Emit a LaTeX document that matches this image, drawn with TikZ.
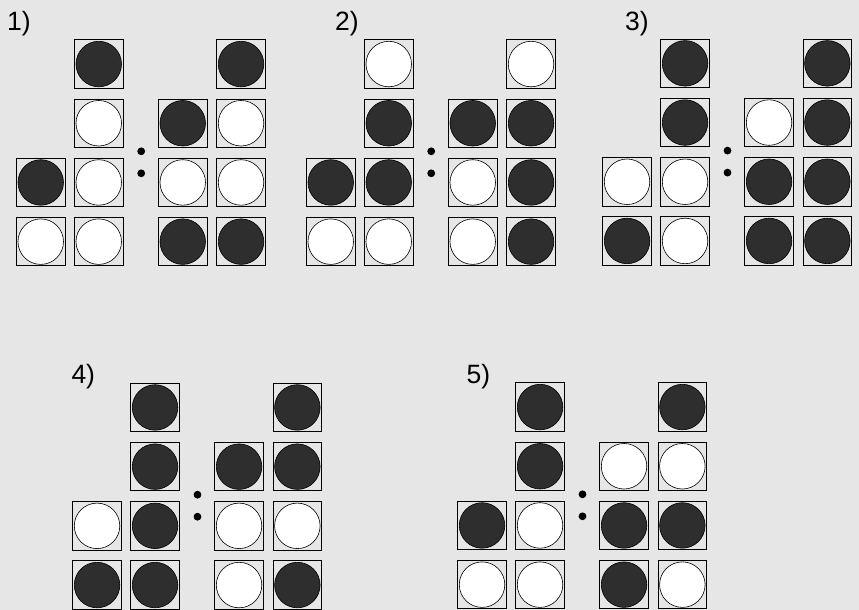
\documentclass[tikz,border=0pt]{standalone}
\usepackage{fontspec}
\setmainfont{Liberation Sans}
\definecolor{bg}{HTML}{E6E6E6}
\definecolor{dark}{HTML}{2E2E2E}
\tikzset{
  cellbox/.style={draw=black, line width=1pt, fill=bg, minimum size=48.5pt, inner sep=0pt, shape=rectangle},
  discB/.style={circle, draw=black, line width=0.6pt, fill=dark, minimum size=45.5pt, inner sep=0pt},
  discW/.style={circle, draw=black, line width=0.6pt, fill=white, minimum size=45.5pt, inner sep=0pt},
  colondot/.style={circle, fill=black, minimum size=7.8pt, inner sep=0pt},
  lbl/.style={anchor=base west, inner sep=0pt, font=\fontsize{26.5}{31}\selectfont}
}
\newcommand\drawpanel[4]{%
  % #1 name, #2 origin x, #3 origin y, #4 list col/row/fill
  \foreach \cc/\rr/\ff in {#4} {
    \pgfmathsetmacro\px{#2+{0,58,142,200.3}[\cc]+24.75}
    \pgfmathsetmacro\py{#3+{0,59.2,118.4,177.6}[\rr]+24.75}
    \node[cellbox] (#1-\cc-\rr) at (\px,\py) {};
    \node[disc\ff] (#1-d\cc-\rr) at (#1-\cc-\rr.center) {};
  }
  \pgfmathsetmacro\qx{#2+125.2}
  \pgfmathsetmacro\qy{#3+112}
  \pgfmathsetmacro\qz{#3+134}
  \node[colondot] (#1-c1) at (\qx,\qy) {};
  \node[colondot] (#1-c2) at (\qx,\qz) {};
}
\begin{document}
\begin{tikzpicture}[x=1pt,y=-1pt]
\fill[bg] (0,0) rectangle (859,610);
\useasboundingbox (0,0) rectangle (859,610);
\drawpanel{p1}{16}{39.3}{1/0/B,3/0/B,1/1/W,2/1/B,3/1/W,0/2/B,1/2/W,2/2/W,3/2/W,0/3/W,1/3/W,2/3/B,3/3/B}
\drawpanel{p2}{306}{39.3}{1/0/W,3/0/W,1/1/B,2/1/B,3/1/B,0/2/B,1/2/B,2/2/W,3/2/B,0/3/W,1/3/W,2/3/W,3/3/B}
\drawpanel{p3}{602.3}{38.6}{1/0/B,3/0/B,1/1/B,2/1/W,3/1/B,0/2/W,1/2/W,2/2/B,3/2/B,0/3/B,1/3/W,2/3/B,3/3/B}
\drawpanel{p4}{72.3}{382.7}{1/0/B,3/0/B,1/1/B,2/1/B,3/1/B,0/2/W,1/2/B,2/2/W,3/2/W,0/3/B,1/3/B,2/3/W,3/3/B}
\drawpanel{p5}{457.3}{382.3}{1/0/B,3/0/B,1/1/B,2/1/W,3/1/W,0/2/B,1/2/W,2/2/B,3/2/B,0/3/W,1/3/W,2/3/B,3/3/W}
\node[lbl] (l1) at (7,30.3) {1)};
\node[lbl] (l2) at (335,30.6) {2)};
\node[lbl] (l3) at (625,30.3) {3)};
\node[lbl] (l4) at (71.3,383.5) {4)};
\node[lbl] (l5) at (466.5,383.5) {5)};
\end{tikzpicture}
\end{document}
